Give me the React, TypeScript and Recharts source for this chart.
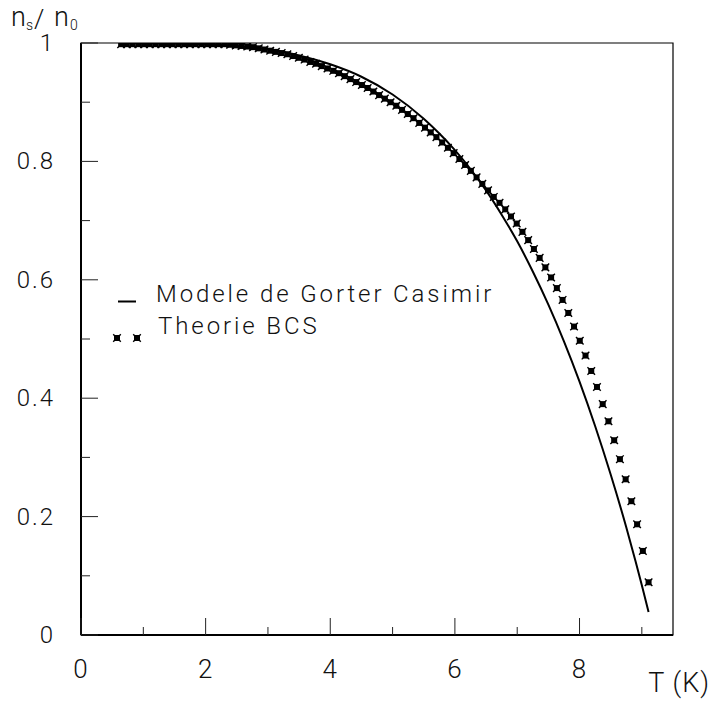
import React from 'react';
import { ComposedChart, Line, Scatter, XAxis, YAxis, ReferenceArea } from 'recharts';

// BCS theory points: temperature (K) and n_s/n_0
const bcsT = [
  0.644, 0.736, 0.828, 0.920, 1.012, 1.104, 1.196, 1.288, 1.380, 1.472,
  1.564, 1.656, 1.748, 1.840, 1.932, 2.024, 2.116, 2.208, 2.300, 2.392,
  2.484, 2.576, 2.668, 2.760, 2.852, 2.944, 3.036, 3.128, 3.220, 3.312,
  3.404, 3.496, 3.588, 3.680, 3.772, 3.864, 3.956, 4.048, 4.140, 4.232,
  4.324, 4.416, 4.508, 4.600, 4.692, 4.784, 4.876, 4.968, 5.060, 5.152,
  5.244, 5.336, 5.428, 5.520, 5.612, 5.704, 5.796, 5.888, 5.980, 6.072,
  6.164, 6.256, 6.348, 6.440, 6.532, 6.624, 6.716, 6.808, 6.900, 6.992,
  7.084, 7.176, 7.268, 7.360, 7.452, 7.544, 7.636, 7.728, 7.820, 7.912,
  8.004, 8.096, 8.188, 8.280, 8.372, 8.464, 8.556, 8.648, 8.740, 8.832,
  8.924, 9.016, 9.108,
];
const bcsValues = [
  0.998, 0.998, 0.998, 0.998, 0.998, 0.998, 0.998, 0.998, 0.998, 0.998,
  0.998, 0.998, 0.998, 0.998, 0.998, 0.998, 0.998, 0.998, 0.998, 0.997,
  0.996, 0.995, 0.994, 0.993, 0.991, 0.989, 0.987, 0.985, 0.983, 0.981,
  0.978, 0.975, 0.972, 0.968, 0.965, 0.961, 0.957, 0.953, 0.949, 0.944,
  0.939, 0.934, 0.929, 0.924, 0.918, 0.912, 0.906, 0.900, 0.894, 0.887,
  0.880, 0.873, 0.865, 0.857, 0.849, 0.841, 0.832, 0.823, 0.814, 0.804,
  0.794, 0.784, 0.773, 0.762, 0.751, 0.740, 0.730, 0.719, 0.707, 0.695,
  0.681, 0.667, 0.652, 0.637, 0.621, 0.604, 0.586, 0.566, 0.544, 0.521,
  0.497, 0.472, 0.446, 0.419, 0.390, 0.361, 0.329, 0.297, 0.263, 0.226,
  0.187, 0.142, 0.089,
];

// Gorter-Casimir model curve
const gcT = [
  0.644, 1.0, 1.5, 2.0, 2.5, 3.0, 3.5, 4.0, 4.5, 5.0, 5.5, 5.75, 6.0, 6.25,
  6.5, 6.75, 7.0, 7.25, 7.5, 7.75, 8.0, 8.25, 8.5, 8.75, 8.9, 9.0, 9.108,
];
const gcValues = [
  1.0, 1.0, 0.999, 0.998, 0.995, 0.989, 0.979, 0.964, 0.943, 0.913, 0.872, 0.847, 0.819, 0.787,
  0.751, 0.71, 0.665, 0.614, 0.558, 0.496, 0.428, 0.353, 0.271, 0.182, 0.124, 0.084, 0.039,
];

const xTicks = [0, 1, 2, 3, 4, 5, 6, 7, 8, 9];
const xTickLabels = ['0', '', '2', '', '4', '', '6', '', '8', ''];
const yTicks = [0, 0.1, 0.2, 0.3, 0.4, 0.5, 0.6, 0.7, 0.8, 0.9, 1.0];
const yTickLabels = ['0', '', '0.2', '', '0.4', '', '0.6', '', '0.8', '', '1'];

const seriesNames = ['Modele de Gorter Casimir', 'Theorie BCS'];

const bcsData = bcsT.map((t, i) => ({ T: t, v: bcsValues[i] }));
const gcData = gcT.map((t, i) => ({ T: t, v: gcValues[i] }));

const FONT = "Roboto, 'Liberation Sans', Arial, sans-serif";

const XTick = (props: any) => {
  const { x, y, payload } = props;
  const idx = xTicks.indexOf(payload.value);
  const label = xTickLabels[idx] || '';
  const major = label !== '';
  return (
    <g>
      <line x1={x} x2={x} y1={y} y2={y - (major ? 17 : 8)} stroke="#222" strokeWidth={1} />
      {major && (
        <text x={x} y={y + 43} textAnchor="middle" fontSize={26} fontFamily={FONT} fontWeight={300}
          fill="#111" letterSpacing={1}>
          {label}
        </text>
      )}
    </g>
  );
};

const YTick = (props: any) => {
  const { x, y, payload } = props;
  let idx = 0;
  let best = 1e9;
  yTicks.forEach((t, i) => {
    const d = Math.abs(t - payload.value);
    if (d < best) { best = d; idx = i; }
  });
  const label = yTickLabels[idx] || '';
  const major = label !== '';
  return (
    <g>
      <line x1={x} x2={x + (major ? 17 : 9)} y1={y} y2={y} stroke="#222" strokeWidth={1} />
      {major && (
        <text x={x - 26} y={y + 8} textAnchor="end" fontSize={24} fontFamily={FONT} fontWeight={300}
          fill="#111" letterSpacing={2}>
          {label}
        </text>
      )}
    </g>
  );
};

const StarMarker = (props: any) => {
  const { cx, cy } = props;
  if (cx == null || cy == null) return <g />;
  return (
    <g>
      <rect x={cx - 3} y={cy - 3} width={6} height={6} fill="#000" />
      <path
        d={`M${cx - 3.8},${cy - 3.8}L${cx + 3.8},${cy + 3.8}M${cx + 3.8},${cy - 3.8}L${cx - 3.8},${cy + 3.8}`}
        stroke="#000"
        strokeWidth={1.4}
      />
    </g>
  );
};

export default function App() {
  return (
    <div style={{ position: 'absolute', left: 0, top: 0, width: 714, height: 702, background: '#fff' }}>
      <ComposedChart width={714} height={702} margin={{ top: 43, right: 41, bottom: 0, left: 0 }}>
        <ReferenceArea x1={0} x2={9.5} y1={0} y2={1} fill="none" stroke="#000" strokeWidth={1.2} />
        <XAxis
          type="number"
          dataKey="T"
          domain={[0, 9.5]}
          ticks={xTicks}
          height={67}
          tickSize={0}
          tickMargin={0}
          tickLine={false}
          axisLine={{ stroke: '#000', strokeWidth: 2 }}
          tick={<XTick />}
          interval={0}
          allowDataOverflow
        />
        <YAxis
          type="number"
          domain={[0, 1]}
          ticks={yTicks}
          width={81}
          tickSize={0}
          tickMargin={0}
          tickLine={false}
          axisLine={{ stroke: '#000', strokeWidth: 2 }}
          tick={<YTick />}
          interval={0}
          allowDataOverflow
        />
        <Line
          data={gcData}
          dataKey="v"
          name={seriesNames[0]}
          type="monotone"
          stroke="#000"
          strokeWidth={2}
          dot={false}
          activeDot={false}
          isAnimationActive={false}
        />
        <Scatter
          data={bcsData}
          dataKey="v"
          name={seriesNames[1]}
          fill="#000"
          shape={<StarMarker />}
          isAnimationActive={false}
        />
      </ComposedChart>
      <svg width={714} height={702} style={{ position: 'absolute', left: 0, top: 0, pointerEvents: 'none' }}>
        <g fontFamily={FONT} fontWeight={300} fill="#111">
          <text x={11} y={26} fontSize={27}>n</text>
          <text x={26} y={30} fontSize={14}>s</text>
          <text x={34} y={28} fontSize={26}>/</text>
          <text x={54} y={26} fontSize={27}>n</text>
          <text x={70} y={30} fontSize={14}>0</text>
          <text x={710} y={692} fontSize={27} textAnchor="end" letterSpacing={1}>T (K)</text>
          <line x1={118} x2={136} y1={301.5} y2={301.5} stroke="#000" strokeWidth={2} />
          <text x={156} y={302} fontSize={24} letterSpacing={2.9}>{seriesNames[0]}</text>
          <StarMarker cx={117} cy={338} />
          <StarMarker cx={137} cy={338} />
          <text x={158} y={334} fontSize={24} letterSpacing={2.9}>{seriesNames[1]}</text>
        </g>
      </svg>
    </div>
  );
}
